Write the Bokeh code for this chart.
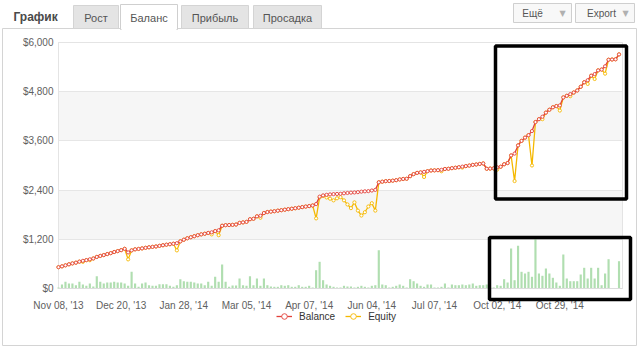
from bokeh.plotting import figure
from bokeh.models import Range1d, FixedTicker, NumeralTickFormatter, BoxAnnotation, Label, Legend, LegendItem
from bokeh.embed import file_html
from bokeh.resources import INLINE

# ---------------- data ----------------
tick_labels = ["Nov 08, '13", "Dec 20, '13", "Jan 28, '14", "Mar 05, '14", "Apr 07, '14",
               "Jun 04, '14", "Jul 07, '14", "Oct 02, '14", "Oct 29, '14"]
label_every = 18

balance = [520, 540, 565, 590, 612, 630, 655, 675, 692, 712,
           732, 770, 795, 815, 840, 862, 890, 912, 935, 968,
           880, 930, 955, 965, 978, 992, 1005, 1015, 1025, 1040,
           1055, 1068, 1080, 1092, 1105, 1150, 1190, 1225, 1250, 1275,
           1300, 1320, 1335, 1355, 1370, 1400, 1420, 1530, 1545, 1548,
           1552, 1560, 1600, 1612, 1625, 1690, 1700, 1760, 1775, 1840,
           1865, 1875, 1885, 1898, 1910, 1922, 1935, 1945, 1958, 1970,
           1985, 1998, 2010, 2025, 2060, 2240, 2270, 2285, 2295, 2302,
           2306, 2310, 2322, 2330, 2338, 2342, 2350, 2362, 2370, 2375,
           2390, 2405, 2590, 2605, 2618, 2622, 2630, 2642, 2660, 2672,
           2676, 2740, 2790, 2820, 2832, 2845, 2862, 2878, 2882, 2886,
           2895, 2915, 2920, 2935, 2945, 2958, 2972, 2985, 2998, 3015,
           3025, 3038, 3050, 2920, 2925, 2930, 2955, 2970, 3030, 3060,
           3245, 3290, 3490, 3600, 3680, 3740, 3840, 4060, 4130, 4190,
           4290, 4360, 4420, 4450, 4465, 4660, 4700, 4740, 4780, 4830,
           4920, 5030, 5080, 5190, 5230, 5320, 5340, 5420, 5580, 5585,
           5590, 5710]

equity = [520, 540, 565, 590, 612, 630, 655, 650, 692, 690,
          732, 770, 795, 815, 840, 862, 890, 912, 935, 968,
          710, 930, 955, 965, 978, 992, 1005, 1015, 1025, 1040,
          1055, 1068, 1080, 1092, 930, 1150, 1190, 1225, 1250, 1275,
          1300, 1320, 1335, 1355, 1320, 1400, 1300, 1530, 1545, 1548,
          1552, 1560, 1600, 1612, 1625, 1690, 1700, 1760, 1725, 1840,
          1865, 1875, 1885, 1898, 1910, 1922, 1935, 1945, 1958, 1970,
          1985, 1998, 2010, 2025, 1710, 2220, 2260, 2220, 2190, 2150,
          2200, 2228, 2150, 2050, 1960, 2100, 1900, 1780, 1860, 2000,
          2080, 1900, 2590, 2605, 2618, 2622, 2630, 2642, 2660, 2672,
          2676, 2740, 2790, 2820, 2832, 2720, 2862, 2878, 2882, 2886,
          2860, 2915, 2920, 2935, 2945, 2958, 2950, 2985, 2998, 3015,
          3025, 3038, 3050, 2920, 2925, 2930, 2900, 2970, 3030, 3060,
          3245, 2620, 3490, 3600, 3680, 3740, 3000, 4060, 4130, 4130,
          4290, 4360, 4420, 4450, 4340, 4660, 4700, 4690, 4780, 4830,
          4920, 5030, 4990, 5190, 5110, 5320, 5340, 5240, 5580, 5585,
          5590, 5710]

volume = [1, 4, 6.7, 5, 5, 3.3, 6.7, 4, 2.7, 5,
          2, 12.3, 6.7, 5, 6, 6, 6.7, 6, 6, 5,
          2.7, 16.7, 5, 1.7, 5, 6, 3.3, 2.7, 2.7, 4.3,
          4.3, 4.3, 2.7, 1.7, 3.3, 9.3, 7.3, 6.7, 6.7, 6,
          5, 5, 3.3, 6.7, 2.7, 11.7, 6.7, 24, 6.7, 1.7,
          3, 3, 10, 3.3, 2.7, 12.3, 3.3, 10, 2.7, 10,
          3.3, 2, 1.7, 1.7, 3.3, 2.7, 3.3, 1.7, 1.7, 3.3,
          1.7, 1.7, 2.7, 1, 18.3, 26.7, 8.3, 4, 2.7, 1.7,
          1, 1, 2.7, 2, 2, 1, 1.7, 2.7, 1.7, 1,
          2.7, 3.3, 38.3, 4, 3.3, 1, 1.7, 2.7, 4, 2.7,
          1, 9.3, 7.3, 5, 2.7, 1.7, 4, 4, 1, 1,
          1.7, 5, 1, 4, 3.3, 3.3, 4, 3.3, 4, 5,
          2.7, 3.3, 3.3, 4, 1, 1, 3.3, 2.7, 9.3, 6,
          40, 8.3, 42.7, 16.7, 15, 16.7, 11.7, 49.3, 15, 12.7,
          20, 15, 10.7, 6, 2.7, 34, 10, 7.3, 7.3, 7.3,
          14, 20.7, 10, 20.7, 10, 20.7, 3.3, 15, 29.3, 0.5,
          0.5, 27.3]
volume_full = 246  # volume value that spans the whole plot height

y_ticks = [0, 1200, 2400, 3600, 4800, 6000]
tabs = ["Рост", "Баланс", "Прибыль", "Просадка"]
active_tab = "Баланс"

# ---------------- layout ----------------
W, H = 641, 347
PL, PR, PT, PB = 58, 622, 42, 288   # plot area, pixels
n = len(balance)
NX = n
YMAX = y_ticks[-1]
sx = (PR - PL) / NX
sy = (PB - PT) / YMAX
sv = (PB - PT) / volume_full
FONT = "Liberation Sans"

p = figure(width=W, height=H,
           x_range=Range1d(-PL / sx, NX + (W - PR) / sx),
           y_range=Range1d(-(H - PB) / sy, YMAX + PT / sy),
           output_backend="svg", toolbar_location=None, min_border=0)
p.extra_y_ranges = {"vol": Range1d(-(H - PB) / sv, volume_full + PT / sv)}
p.background_fill_color = "white"
p.border_fill_color = "white"
p.outline_line_color = None
p.xgrid.grid_line_color = None
p.ygrid.grid_line_color = None


def dx(px):
    return (px - PL) / sx


def dy(py):
    return (PB - py) / sy


def box(l, t, r, b, fill=None, line=None, lw=1, level="annotation"):
    return BoxAnnotation(left=dx(l), right=dx(r), top=dy(t), bottom=dy(b),
                         fill_color=fill if fill else "white", fill_alpha=1 if fill else 0,
                         line_color=line if line else "white", line_alpha=1 if line else 0,
                         line_width=lw, level=level)


def label(px, py, text, size="11px", color="#555555", align="center", style="normal", font=FONT):
    return Label(x=dx(px), y=dy(py), text=text, text_font=font, text_font_size=size,
                 text_color=color, text_align=align, text_baseline="middle",
                 text_font_style=style)


# outer container frame
p.add_layout(box(2, 28, 636, 345, line="#d4d4d4", level="image"))

# alternate bands of the plot area
for lo, hi in [(y_ticks[1], y_ticks[2]), (y_ticks[3], y_ticks[4])]:
    p.add_layout(BoxAnnotation(left=0, right=NX, bottom=lo, top=hi, fill_color="#f6f6f6",
                               fill_alpha=1, line_alpha=0, level="image"))
# plot area border
p.add_layout(BoxAnnotation(left=0, right=NX, bottom=0, top=YMAX, fill_alpha=0,
                           line_color="#e4e4e4", line_alpha=1, line_width=1, level="underlay"))

# axes (fixed inside the canvas); y tick lines double as the horizontal grid
yax = p.yaxis[0]
xax = p.xaxis[0]
yax.fixed_location = 0
xax.fixed_location = 0
yax.bounds = (0, YMAX)
xax.bounds = (0, NX)
yax.ticker = FixedTicker(ticks=y_ticks)
yax.formatter = NumeralTickFormatter(format="$0,0")
xax.ticker = FixedTicker(ticks=[i * label_every for i in range(len(tick_labels))])
xax.major_label_overrides = {i * label_every: t for i, t in enumerate(tick_labels)}
for ax in (xax, yax):
    ax.minor_tick_line_color = None
    ax.major_label_text_font = FONT
    ax.major_label_text_font_size = "10px"
    ax.major_label_text_color = "#606060"
    ax.major_label_standoff = 5
xax.major_tick_line_color = None
xax.axis_line_color = "#dcdcdc"
yax.axis_line_color = "#d0d0d0"
yax.major_tick_in = PR - PL
yax.major_tick_out = 0
yax.major_tick_line_color = "#e6e6e6"
yax.level = "underlay"

# data
x = list(range(n))
p.vbar(x=x, top=volume, width=0.62, y_range_name="vol", fill_color="#b0deb0", line_color=None)
eq_line = p.line(x, equity, line_color="#f5b800", line_width=1.3)
eq_pts = p.scatter(x, equity, size=3.2, marker="circle", fill_color="white",
                   line_color="#f5b800", line_width=0.9)
bal_line = p.line(x, balance, line_color="#e2413a", line_width=1.3)
bal_pts = p.scatter(x, balance, size=3.2, marker="circle", fill_color="white",
                    line_color="#e2413a", line_width=0.9)

legend = Legend(items=[LegendItem(label="Balance", renderers=[bal_line, bal_pts]),
                       LegendItem(label="Equity", renderers=[eq_line, eq_pts])],
                orientation="horizontal", location=(276, H - 323),
                glyph_width=16, glyph_height=14, label_standoff=7, spacing=10, padding=0,
                label_text_font=FONT, label_text_font_size="10px", label_text_color="#333333",
                border_line_color=None, background_fill_alpha=0)
p.add_layout(legend)

# header: title and tabs
tab_spans = [(73, 118), (120, 177), (181, 248), (253, 321)]
for (l, r), t in zip(tab_spans, tabs):
    if t == active_tab:
        p.add_layout(box(l, 4, r, 29, fill="white", line="#cfcfcf"))
        p.add_layout(box(l + 1, 27, r - 1, 30, fill="white"))
    else:
        p.add_layout(box(l, 5, r, 28, fill="#e4e4e4", line="#d4d4d4"))
    p.add_layout(label((l + r) / 2, 17, t))
p.add_layout(label(13, 16, "График", size="12px", color="#4a4a4a", align="left", style="bold"))

for (l, r), t, tx in [((513, 571), "Ещё", 532), ((575, 634), "Export", 601)]:
    p.add_layout(box(l, 3, r, 22, fill="#f8f8f8", line="#cfcfcf"))
    p.add_layout(label(tx, 13, t, size="10px"))
    p.add_layout(label(r - 9, 13, "▼", size="8px", color="#b0b0b0", font="DejaVu Sans"))

# black highlight frames drawn on the reference picture
p.add_layout(box(495, 45.5, 626, 198.5, line="black", lw=3.5, level="overlay"))
p.add_layout(box(489, 237, 630, 299, line="black", lw=3.5, level="overlay"))

open("out.html", "w").write(file_html(p, INLINE))
